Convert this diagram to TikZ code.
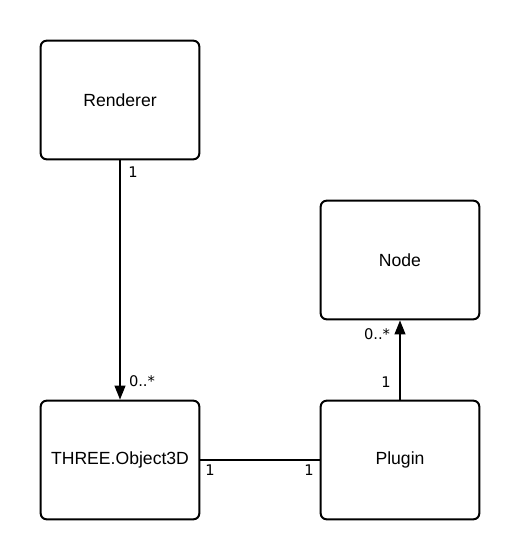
\documentclass[tikz,border=0pt]{standalone}
\usepackage{fontspec}
\setmainfont{Liberation Sans}
\newfontfamily\multfont{DejaVu Sans}
\usetikzlibrary{arrows.meta}

\tikzset{
  cls/.style={draw, line width=1.5pt, rounded corners=4.5pt,
    minimum width=119pt, minimum height=89pt,
    font=\fontsize{13.2}{16}\selectfont},
  mult/.style={inner sep=0pt, font=\multfont\fontsize{11}{13}\selectfont},
  assoc/.style={line width=1.5pt},
  nav/.style={assoc, -{Triangle[length=10.5pt,width=8pt]}}
}

\begin{document}
\begin{tikzpicture}[x=0.75pt,y=-0.75pt]
  \useasboundingbox (0,0) rectangle (520,560);

  % classes
  \node[cls] (renderer) at (120,100) {Renderer};
  \node[cls] (nodebox)  at (400,260) {Node};
  \node[cls] (object3d) at (120,460) {THREE.Object3D};
  \node[cls] (plugin)   at (400,460) {Plugin};

  % associations
  \draw[nav] (renderer) -- (object3d);
  \draw[nav] (plugin) -- (nodebox);
  \draw[assoc] (object3d) -- (plugin);

  % multiplicities
  \node[mult] (mrend)  at (133,172) {1};
  \node[mult] (mobjtop) at (142,381) {0..*};
  \node[mult] (mobjr)  at (210,470) {1};
  \node[mult] (mplugl) at (309,470) {1};
  \node[mult] (mnode)  at (377,334) {0..*};
  \node[mult] (mplugt) at (386,382) {1};
\end{tikzpicture}
\end{document}
